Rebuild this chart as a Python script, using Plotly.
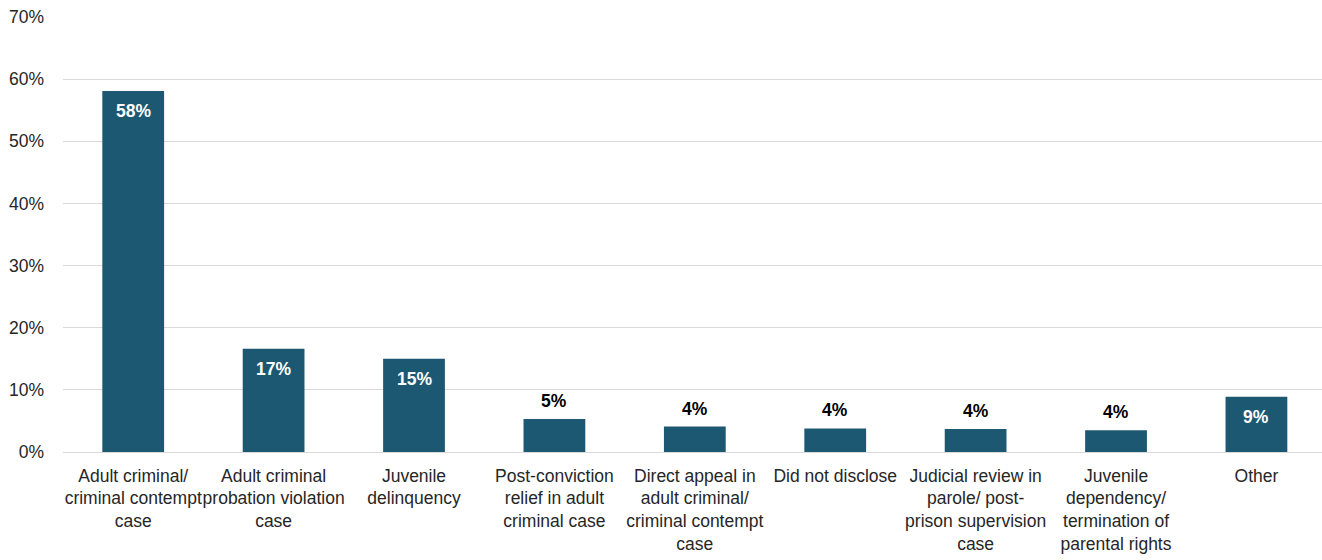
import plotly.graph_objects as go

# Share of cases by case type
categories = [
    "Adult criminal/<br>criminal contempt<br>case",
    "Adult criminal<br>probation violation<br>case",
    "Juvenile<br>delinquency",
    "Post-conviction<br>relief in adult<br>criminal case",
    "Direct appeal in<br>adult criminal/<br>criminal contempt<br>case",
    "Did not disclose",
    "Judicial review in<br>parole/ post-<br>prison supervision<br>case",
    "Juvenile<br>dependency/<br>termination of<br>parental rights",
    "Other",
]
shares = [0.581, 0.166, 0.150, 0.053, 0.041, 0.038, 0.037, 0.035, 0.089]
y_ticks = [0, 0.1, 0.2, 0.3, 0.4, 0.5, 0.6, 0.7]
y_tick_labels = ["0%", "10%", "20%", "30%", "40%", "50%", "60%", "70%"]

BAR = "#1D5872"
FONT = "Liberation Sans, Arial, sans-serif"
INSIDE_MIN = 0.08

x_idx = list(range(len(categories)))

fig = go.Figure(
    go.Bar(
        x=x_idx,
        y=shares,
        width=0.44,
        marker=dict(color=BAR, line=dict(width=0)),
        hoverinfo="skip",
    )
)

# Value labels: white inside tall bars, black above short ones
for i, v in zip(x_idx, shares):
    inside = v >= INSIDE_MIN
    fig.add_annotation(
        x=i,
        y=v,
        text=f"<b>{v * 100:.0f}%</b>",
        showarrow=False,
        xanchor="center",
        yanchor="top" if inside else "bottom",
        yshift=-8 if inside else 6,
        font=dict(family=FONT, size=17.5, color="#FFFFFF" if inside else "#000000"),
    )

fig.update_layout(
    width=1322,
    height=560,
    margin=dict(l=63, r=0, t=17, b=108),
    paper_bgcolor="white",
    plot_bgcolor="white",
    showlegend=False,
    font=dict(family=FONT, size=17.5, color="#262626"),
    bargap=0.56,
)
fig.update_xaxes(
    tickmode="array",
    tickvals=x_idx,
    ticktext=categories,
    range=[-0.5, 8.467],
    tickangle=0,
    automargin=False,
    showgrid=False,
    zeroline=False,
    showline=False,
    ticks="",
    ticklabelstandoff=11,
    tickfont=dict(family=FONT, size=17.5, color="#262626"),
)
fig.update_yaxes(
    range=[0, 0.7],
    tickmode="array",
    tickvals=y_ticks,
    ticktext=y_tick_labels,
    automargin=False,
    showgrid=True,
    gridcolor="#D9D9D9",
    gridwidth=1,
    zeroline=True,
    zerolinecolor="#D9D9D9",
    zerolinewidth=1,
    showline=False,
    ticks="",
    ticklabelstandoff=18,
    tickfont=dict(family=FONT, size=17.5, color="#262626"),
)

fig.write_html("out.html")
